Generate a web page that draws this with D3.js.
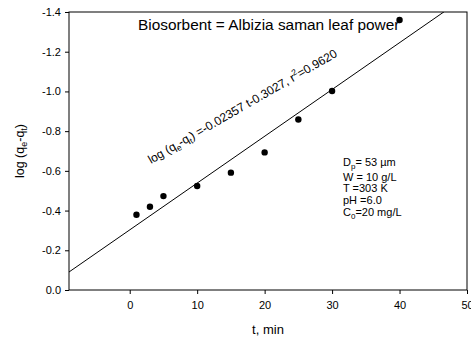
<!DOCTYPE html>
<html>
<head>
<meta charset="utf-8">
<title>Pseudo-first-order plot</title>
<script src="https://d3js.org/d3.v7.min.js"></script>
<style>
  body { margin: 0; background: #fff; }
  text { font-family: "Liberation Sans", Arial, sans-serif; fill: #000; }
</style>
</head>
<body>
<script>
// data
var tempo = [1, 3, 5, 10, 15, 20, 25, 30, 40];
var logQ = [-0.379, -0.419, -0.473, -0.524, -0.591, -0.693, -0.859, -1.002, -1.36];
var xTicks = [0, 10, 20, 30, 40, 50];
var yTicks = [0, -0.2, -0.4, -0.6, -0.8, -1.0, -1.2, -1.4];
var slope = -0.02357, intercept = -0.3027;
var params = ["D|p|= 53 \u00b5m", "W = 10 g/L", "T =303 K", "pH =6.0", "C|0|=20 mg/L"];

var W = 471, H = 341;
// plot area (window.top is reserved, so other names)
var pL = 69, pR = 467, pT = 12, pB = 290;

var svg = d3.select("body").append("svg")
    .attr("width", W)
    .attr("height", H);

var x = d3.scaleLinear().domain([-9, 50]).range([pL, pR]);
var y = d3.scaleLinear().domain([0, -1.4]).range([pB, pT]);

// clip for the fit line
svg.append("clipPath").attr("id", "area")
  .append("rect").attr("x", pL).attr("y", pT)
  .attr("width", pR - pL).attr("height", pB - pT);

// box
svg.append("rect")
    .attr("x", pL).attr("y", pT)
    .attr("width", pR - pL).attr("height", pB - pT)
    .attr("fill", "none").attr("stroke", "#000").attr("stroke-width", 1);

// axes
var xAxis = svg.append("g")
    .attr("transform", "translate(0," + pB + ")")
    .call(d3.axisBottom(x).tickValues(xTicks).tickSize(4).tickPadding(7)
          .tickFormat(function(d){ return d; }));
var yAxis = svg.append("g")
    .attr("transform", "translate(" + pL + ",0)")
    .call(d3.axisLeft(y).tickValues(yTicks).tickSize(4).tickPadding(4)
          .tickFormat(function(d){ return d.toFixed(1); }));
[xAxis, yAxis].forEach(function(a){
  a.select(".domain").remove();
  a.selectAll("line").attr("stroke", "#000");
  a.selectAll("text").style("font-family", "Liberation Sans, Arial, sans-serif")
    .style("font-size", "11px").attr("fill", "#000");
});

// fit line
var linha = d3.line()
    .x(function(d){ return x(d); })
    .y(function(d){ return y(slope * d + intercept); });
svg.append("path")
    .datum(x.domain())
    .attr("d", linha)
    .attr("clip-path", "url(#area)")
    .attr("fill", "none").attr("stroke", "#000").attr("stroke-width", 1);

// points
svg.selectAll("circle.pt")
    .data(tempo)
    .enter()
    .append("circle")
    .attr("class", "pt")
    .attr("cx", function(d){ return x(d); })
    .attr("cy", function(d, i){ return y(logQ[i]); })
    .attr("r", 3.2)
    .attr("fill", "#000");

// axis titles
svg.append("text")
    .attr("x", (pL + pR) / 2).attr("y", 334)
    .attr("text-anchor", "middle")
    .style("font-size", "13px")
    .text("t, min");

var ylab = svg.append("text")
    .attr("transform", "translate(24," + ((pT + pB) / 2) + ") rotate(-90)")
    .attr("text-anchor", "middle")
    .style("font-size", "12.5px");
ylab.append("tspan").text("log (q");
ylab.append("tspan").attr("dy", 3).style("font-size", "9px").text("e");
ylab.append("tspan").attr("dy", -3).text("-q");
ylab.append("tspan").attr("dy", 3).style("font-size", "9px").text("t");
ylab.append("tspan").attr("dy", -3).text(")");

// title inside plot
svg.append("text")
    .attr("x", 138).attr("y", 30)
    .style("font-size", "15.4px")
    .text("Biosorbent = Albizia saman leaf power");

// equation along the line
var eq = svg.append("text")
    .attr("transform", "translate(151,164) rotate(-30)")
    .style("font-size", "12px");
eq.append("tspan").text("log (q");
eq.append("tspan").attr("dy", 3).style("font-size", "8.5px").text("e");
eq.append("tspan").attr("dy", -3).text("-q");
eq.append("tspan").attr("dy", 3).style("font-size", "8.5px").text("t");
eq.append("tspan").attr("dy", -3).text(") =-0.02357 t-0.3027, r");
eq.append("tspan").attr("dy", -5).style("font-size", "8.5px").text("2");
eq.append("tspan").attr("dy", 5).text("=0.9620");

// conditions
var baseY = [166, 181, 192, 204, 216];
params.forEach(function(p, i){
  var partes = p.split("|");
  var t = svg.append("text")
      .attr("x", 343).attr("y", baseY[i])
      .style("font-size", "11px");
  t.append("tspan").text(partes[0]);
  if (partes.length > 1) {
    t.append("tspan").attr("dy", 3).style("font-size", "8px").text(partes[1]);
    t.append("tspan").attr("dy", -3).text(partes[2]);
  }
});
</script>
</body>
</html>
